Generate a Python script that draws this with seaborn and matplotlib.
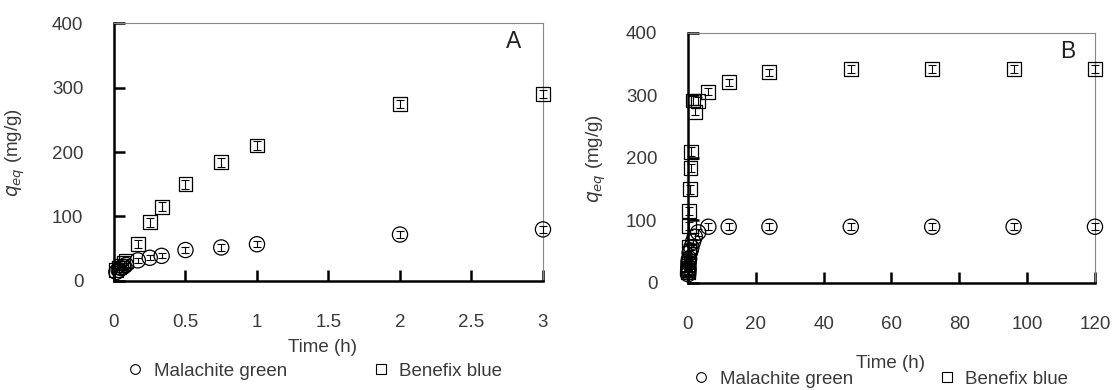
import matplotlib
matplotlib.use('Agg')
import matplotlib.pyplot as plt
import seaborn as sns
from matplotlib.lines import Line2D

# Panel A: first 3 h
time_a = [0.0167, 0.0333, 0.05, 0.0667, 0.0833, 0.1667, 0.25, 0.3333, 0.5, 0.75, 1, 2, 3]
mg_a = [14, 17, 20, 22, 25, 32, 36, 39, 48, 52, 57, 72, 80]
mg_a_err = [3, 3, 3, 3, 3, 4, 4, 4, 5, 5, 5, 6, 6]
bb_a = [17, 21, 24, 28, 31, 57, 91, 115, 150, 184, 210, 274, 290]
bb_a_err = [3, 3, 3, 3, 3, 6, 7, 7, 7, 7, 7, 6, 6]

# Panel B: up to 120 h
time_b = [0.0167, 0.0333, 0.05, 0.0667, 0.0833, 0.1667, 0.25, 0.3333, 0.5, 0.75, 1,
          1.5, 2, 3, 6, 12, 24, 48, 72, 96, 120]
mg_b = [14, 17, 20, 22, 25, 32, 36, 39, 48, 52, 57, 66, 74, 81, 90, 90, 90, 90, 90, 90, 90]
mg_b_err = [3, 3, 3, 3, 3, 4, 4, 4, 5, 5, 5, 5, 6, 6, 6, 6, 6, 6, 6, 6, 6]
bb_b = [17, 21, 24, 28, 31, 57, 91, 115, 150, 184, 210, 292, 274, 291, 306, 321, 337, 342, 342, 342, 342]
bb_b_err = [3, 3, 3, 3, 3, 6, 7, 7, 7, 7, 7, 7, 6, 6, 6, 6, 6, 6, 6, 6, 6]

series_labels = ['Malachite green', 'Benefix blue']
panel_letters = ['A', 'B']

sns.set_style('white')
plt.rcParams['font.family'] = ['Liberation Sans', 'DejaVu Sans']
txt = '#3a3a3a'
fs = 13.5

fig = plt.figure(figsize=(11.12, 3.9), dpi=100)
ax_a = fig.add_axes([0.1025, 0.2795, 0.3858, 0.6615])
ax_b = fig.add_axes([0.6187, 0.2744, 0.366, 0.641])


def draw_panel(ax, t, mg, mg_err, bb, bb_err, xmax, xstep, letter):
    ax.errorbar(t, mg, yerr=mg_err, fmt='none', ecolor='black', elinewidth=0.8,
                capsize=3, capthick=0.8, clip_on=False, zorder=3)
    ax.errorbar(t, bb, yerr=bb_err, fmt='none', ecolor='black', elinewidth=0.8,
                capsize=3, capthick=0.8, clip_on=False, zorder=3)
    sns.scatterplot(x=t, y=mg, marker='o', s=120, facecolor='none', edgecolor='black',
                    linewidth=0.9, ax=ax, clip_on=False, zorder=4)
    sns.scatterplot(x=t, y=bb, marker='s', s=100, facecolor='none', edgecolor='black',
                    linewidth=0.9, ax=ax, clip_on=False, zorder=4)
    ax.set_xlim(0, xmax)
    ax.set_ylim(0, 400)
    xt = [i * xstep for i in range(int(round(xmax / xstep)) + 1)]
    ax.set_xticks(xt)
    ax.set_xticklabels(['%g' % v for v in xt])
    ax.set_yticks([0, 100, 200, 300, 400])
    ax.tick_params(axis='both', direction='in', length=8, width=1.8, color='black',
                   labelsize=fs, labelcolor=txt, bottom=True, left=True)
    ax.tick_params(axis='x', pad=24)
    ax.tick_params(axis='y', pad=22)
    for side in ['left', 'bottom']:
        ax.spines[side].set_linewidth(1.8)
        ax.spines[side].set_color('black')
    for side in ['top', 'right']:
        ax.spines[side].set_linewidth(0.8)
        ax.spines[side].set_color('#888888')
    ax.set_ylabel('$q_{eq}$ (mg/g)', fontsize=fs, color=txt)
    ax.text(0.932, 0.927, letter, transform=ax.transAxes, ha='center', va='center',
            fontsize=16.5, color='#222222')


draw_panel(ax_a, time_a, mg_a, mg_a_err, bb_a, bb_a_err, 3, 0.5, panel_letters[0])
draw_panel(ax_b, time_b, mg_b, mg_b_err, bb_b, bb_b_err, 120, 20, panel_letters[1])

ax_a.yaxis.set_label_coords(-0.203, 0.5)
ax_b.yaxis.set_label_coords(-0.197, 0.5)

fig.text(322 / 1112, 1 - 348 / 390, 'Time (h)', ha='center', va='center', fontsize=fs, color=txt)
fig.text(891 / 1112, 1 - 363 / 390, 'Time (h)', ha='center', va='center', fontsize=fs, color=txt)

handles = [Line2D([], [], ls='none', marker='o', mfc='none', mec='black', ms=7, mew=0.8),
           Line2D([], [], ls='none', marker='s', mfc='none', mec='black', ms=7, mew=0.8)]
for cx, cy in [(314, 371), (880, 379)]:
    leg = fig.legend(handles, series_labels, loc='center', bbox_to_anchor=(cx / 1112, 1 - cy / 390),
                     ncol=2, frameon=False, fontsize=fs, columnspacing=4.5,
                     handletextpad=0.5, handlelength=1.0, borderpad=0)
    for t in leg.get_texts():
        t.set_color(txt)

fig.savefig('out.png', dpi=100, facecolor='white')
